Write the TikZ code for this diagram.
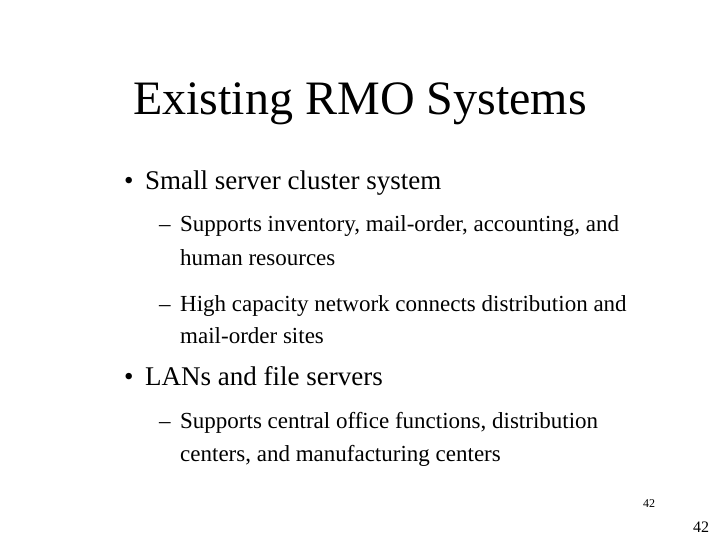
\documentclass[tikz,border=0pt]{standalone}
\usepackage{fontspec}
\setmainfont{Liberation Serif}
\begin{document}
\begin{tikzpicture}[x=1pt,y=-1pt,
  t/.style={anchor=base west,inner sep=0pt},
  lone/.style={t,font=\fontsize{27}{30}\selectfont},
  ltwo/.style={t,font=\fontsize{23}{26}\selectfont}]
\useasboundingbox (0,0) rectangle (720,540);
\node[anchor=base,inner sep=0pt,font=\fontsize{48}{52}\selectfont] (title) at (360,115) {Existing RMO Systems};
\node[lone] (b1) at (124,190) {•};
\node[lone] (b1t) at (145,190) {Small server cluster system};
\node[ltwo] (d1) at (159,232) {–};
\node[ltwo] (d1t) at (180,232) {Supports inventory, mail-order, accounting, and};
\node[ltwo] (d1u) at (180,265) {human resources};
\node[ltwo] (d2) at (159,311) {–};
\node[ltwo] (d2t) at (180,311) {High capacity network connects distribution and};
\node[ltwo] (d2u) at (180,343) {mail-order sites};
\node[lone] (b2) at (124,385) {•};
\node[lone] (b2t) at (145,385) {LANs and file servers};
\node[ltwo] (d3) at (159,428) {–};
\node[ltwo] (d3t) at (180,428) {Supports central office functions, distribution};
\node[ltwo] (d3u) at (180,461) {centers, and manufacturing centers};
\node[t,font=\fontsize{12}{14}\selectfont] (n1) at (643,507) {42};
\node[t,font=\fontsize{16}{18}\selectfont] (n2) at (693,532) {42};
\end{tikzpicture}
\end{document}
